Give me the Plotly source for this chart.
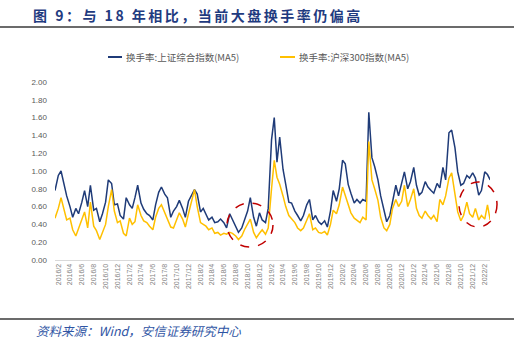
import pandas as pd
import plotly.graph_objects as go

# semi-monthly sampling dates (1st and 15th), 2016-01-15 .. 2022-03-01
dates = pd.date_range("2016-01-15", periods=148, freq="SMS")

sse_turnover = [
    0.78, 0.95, 1.00, 0.85, 0.72, 0.60, 0.48, 0.58, 0.52, 0.65, 0.78,
    0.60, 0.84, 0.56, 0.58, 0.43, 0.52, 0.65, 0.90, 0.86, 0.62,
    0.63, 0.50, 0.46, 0.70, 0.62, 0.58, 0.70, 0.84, 0.64, 0.57,
    0.52, 0.50, 0.45, 0.62, 0.76, 0.82, 0.74, 0.70, 0.48, 0.55,
    0.60, 0.67, 0.58, 0.48, 0.66, 0.72, 0.79, 0.74, 0.54, 0.58,
    0.52, 0.45, 0.48, 0.42, 0.43, 0.46, 0.42, 0.36, 0.52, 0.45,
    0.38, 0.31, 0.36, 0.45, 0.55, 0.70, 0.48, 0.38, 0.53, 0.45,
    0.42, 0.58, 1.35, 1.60, 1.10, 1.38, 1.02, 0.85, 0.65, 0.64,
    0.55, 0.50, 0.44, 0.50, 0.62, 0.68, 0.45, 0.50, 0.43, 0.40,
    0.44, 0.37, 0.55, 0.78, 0.66, 0.80, 1.12, 1.08, 0.85, 0.75,
    0.64, 0.68, 0.64, 0.68, 0.66, 1.66, 1.15, 1.05, 0.90, 0.72,
    0.55, 0.43, 0.50, 0.65, 0.84, 0.72, 0.85, 0.99, 0.80, 0.88,
    1.04, 0.84, 0.73, 0.76, 0.88, 0.82, 0.78, 0.75, 0.86, 0.81,
    1.04, 0.90, 1.43, 1.46, 1.26, 0.99, 0.84, 0.86, 0.95, 0.92,
    0.98, 0.92, 0.73, 0.78, 0.99, 0.96, 0.90,
]

hs300_turnover = [
    0.47, 0.58, 0.70, 0.58, 0.45, 0.47, 0.34, 0.27, 0.36, 0.45, 0.54,
    0.36, 0.65, 0.38, 0.33, 0.23, 0.30, 0.40, 0.60, 0.79, 0.55,
    0.42, 0.44, 0.30, 0.27, 0.47, 0.40, 0.43, 0.62, 0.50, 0.44,
    0.42, 0.38, 0.34, 0.48, 0.58, 0.62, 0.53, 0.45, 0.37, 0.36,
    0.45, 0.53, 0.46, 0.37, 0.52, 0.65, 0.79, 0.60, 0.42, 0.40,
    0.38, 0.34, 0.36, 0.30, 0.31, 0.28, 0.30, 0.29, 0.31, 0.30,
    0.27, 0.23, 0.27, 0.34, 0.40, 0.46, 0.31, 0.25, 0.30, 0.34,
    0.29, 0.36, 0.80, 1.12, 0.93, 0.85, 0.72, 0.60, 0.50, 0.46,
    0.42, 0.36, 0.33, 0.36, 0.45, 0.52, 0.34, 0.36, 0.31, 0.30,
    0.32, 0.28, 0.40, 0.56, 0.52, 0.62, 0.82, 0.72, 0.62, 0.53,
    0.47, 0.45, 0.42, 0.48, 0.45, 1.33, 0.90, 0.80, 0.67, 0.48,
    0.36, 0.33, 0.40, 0.58, 0.68, 0.60, 0.66, 0.84, 0.60, 0.68,
    0.80, 0.58, 0.50, 0.47, 0.55, 0.50, 0.46, 0.50, 0.43, 0.68,
    0.62, 0.72, 0.92, 0.98, 0.72, 0.54, 0.44, 0.50, 0.65, 0.52,
    0.48, 0.58, 0.45, 0.50, 0.46, 0.62, 0.45,
]

series_names = ["换手率:上证综合指数(MA5)", "换手率:沪深300指数(MA5)"]
series_colors = ["#1F3B78", "#FFC000"]

tick_dates = pd.date_range("2016-02-01", "2022-02-01", freq="2MS")
tick_labels = [f"{d.year}/{d.month}" for d in tick_dates]
y_ticks = [i / 5 for i in range(11)]

title_text = "图 9：与 18 年相比，当前大盘换手率仍偏高"
source_text = "资料来源：Wind，安信证券研究中心"

CJK = "Noto Sans CJK SC"

fig = go.Figure()
for vals, name, col in zip([sse_turnover, hs300_turnover], series_names, series_colors):
    fig.add_trace(go.Scatter(x=dates, y=vals, mode="lines", name=name,
                             line=dict(color=col, width=1.5), showlegend=False))

# plot area geometry (pixels) used for decorations
W, H = 520, 339
L, R, T, B = 55, 30, 82, 79
pw, ph = W - L - R, H - T - B


def px(x):
    return (x - L) / pw


def py(y):
    return (H - B - y) / ph


shapes = []
# rule under title and above footer
shapes.append(dict(type="line", xref="paper", yref="paper", x0=px(0), x1=px(514),
                   y0=py(27), y1=py(27), line=dict(color="#3a3a3a", width=1.5)))
shapes.append(dict(type="line", xref="paper", yref="paper", x0=px(0), x1=px(514),
                   y0=py(319), y1=py(319), line=dict(color="#3a3a3a", width=1.5)))
# legend samples
legend_items = [(108, 122, 124), (280, 295, 297)]
annotations = []
for (lx0, lx1, tx), name, col in zip(legend_items, series_names, series_colors):
    shapes.append(dict(type="line", xref="paper", yref="paper", x0=px(lx0), x1=px(lx1),
                       y0=py(57), y1=py(57), line=dict(color=col, width=2)))
    annotations.append(dict(text=name, xref="paper", yref="paper", x=px(tx), y=py(57),
                            xanchor="left", yanchor="middle", showarrow=False,
                            font=dict(family=CJK, size=9.5, color="#595959")))
# red dashed circles
shapes.append(dict(type="circle", xref="paper", yref="paper", x0=px(227), x1=px(273),
                   y0=py(247), y1=py(203), line=dict(color="#C00000", width=1.5, dash="dash")))
shapes.append(dict(type="circle", xref="paper", yref="paper", x0=px(459), x1=px(497),
                   y0=py(227), y1=py(182), line=dict(color="#C00000", width=1.5, dash="dash")))

annotations.append(dict(text=source_text, xref="paper", yref="paper", x=px(34), y=py(330),
                        xanchor="left", yanchor="middle", showarrow=False,
                        font=dict(family=CJK, size=12.5, color="#2F55A4", style="italic")))

fig.update_layout(
    width=W, height=H,
    margin=dict(l=L, r=R, t=T, b=B, pad=0),
    paper_bgcolor="white", plot_bgcolor="white",
    title=dict(text='<b><span style="letter-spacing:2.5px">' + title_text + "</span></b>",
               xref="container", yref="container",
               x=33 / W, y=1 - 16 / H, xanchor="left", yanchor="middle",
               font=dict(family=CJK, size=14, color="#1F3B80")),
    shapes=shapes, annotations=annotations,
    xaxis=dict(type="date", range=["2016-01-15", "2022-02-28"],
               tickvals=list(tick_dates), ticktext=tick_labels, tickangle=-90,
               tickfont=dict(family="Liberation Sans", size=7, color="#7f7f7f"),
               showgrid=False, zeroline=False, showline=True, linecolor="#d9d9d9",
               linewidth=1, ticks=""),
    yaxis=dict(range=[0, 2.0], tickvals=y_ticks, tickformat=".2f",
               tickfont=dict(family="Liberation Sans", size=8, color="#595959"),
               showgrid=False, zeroline=False, showline=False, ticks="",
               ticklen=0),
)
fig.update_yaxes(ticklabelstandoff=7)

fig.write_html("out.html")
